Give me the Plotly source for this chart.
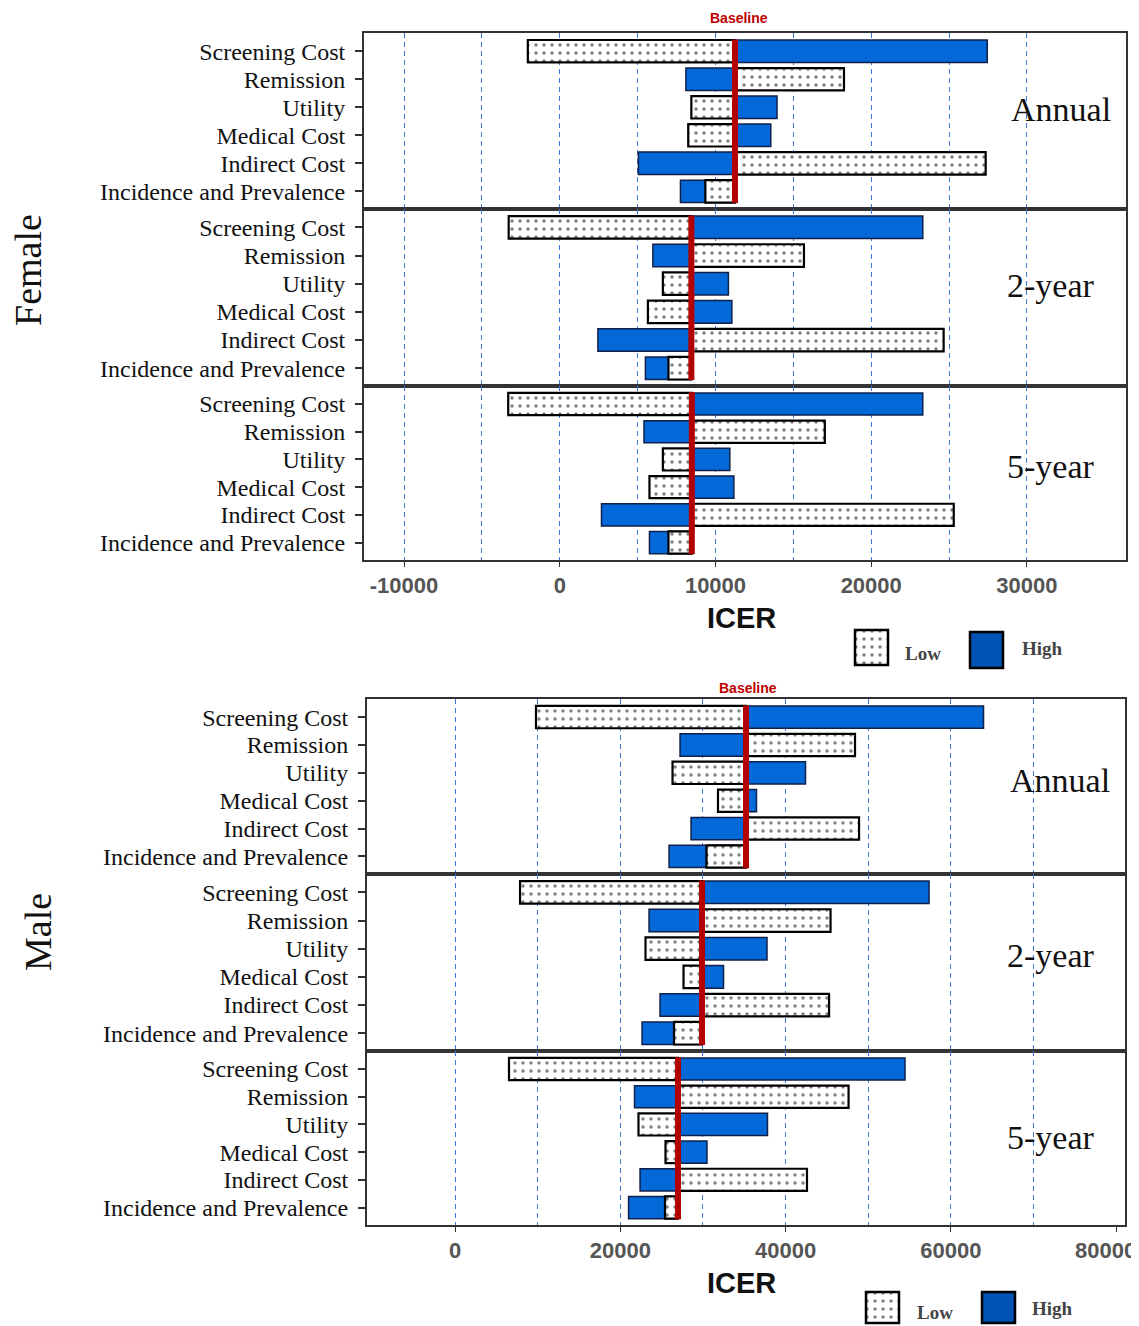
import plotly.graph_objects as go

W, H = 1139, 1326
OX, OY = 8, 8            # browser body margin
FW, FH = W - OX, H - OY  # figure size

params = ["Screening Cost", "Remission", "Utility", "Medical Cost",
          "Indirect Cost", "Incidence and Prevalence"]
horizons = ["Annual", "2-year", "5-year"]

# ---- Female ICER values ----
female_baseline = [11250, 8450, 8480]
female_annual_low = [-2050, 18250, 8450, 8250, 27350, 9350]
female_annual_high = [27450, 8100, 13950, 13550, 5050, 7750]
female_2yr_low = [-3280, 15680, 6620, 5660, 24650, 6980]
female_2yr_high = [23310, 5980, 10830, 11050, 2450, 5500]
female_5yr_low = [-3310, 17020, 6620, 5760, 25300, 6980]
female_5yr_high = [23310, 5410, 10920, 11180, 2680, 5760]

# ---- Male ICER values ----
male_baseline = [35210, 29890, 26980]
male_annual_low = [9800, 48400, 26320, 31820, 48890, 30430]
male_annual_high = [63950, 27230, 42410, 36480, 28560, 25900]
male_2yr_low = [7870, 45440, 23050, 27650, 45260, 26500]
male_2yr_high = [57360, 23480, 37750, 32490, 24810, 22630]
male_5yr_low = [6530, 47620, 22200, 25470, 42590, 25410]
male_5yr_high = [54450, 21720, 37810, 30490, 22390, 21000]

female_ticks = [-10000, 0, 10000, 20000, 30000]
female_grid = [-10000, -5000, 0, 5000, 10000, 15000, 20000, 25000, 30000]
male_ticks = [0, 20000, 40000, 60000, 80000]
male_grid = [0, 10000, 20000, 30000, 40000, 50000, 60000, 70000]

BLUE = "#0369d9"
RED = "#b30000"
GRID = "#3d78d8"
SERIF = "Liberation Serif, Times New Roman, serif"
SANS = "Liberation Sans, Arial, sans-serif"


def PX(x):
    return (x - OX) / FW


def PY(y):
    return 1 - (y - OY) / FH


fig = go.Figure()

F_X = (364, 1126)
M_X = (367, 1125)
F_RANGE = [-12570, 36360]
M_RANGE = [-10650, 81070]
panels = [
    (female_annual_low, female_annual_high, female_baseline[0], F_X, (33, 209), F_RANGE, female_grid, female_ticks, False),
    (female_2yr_low, female_2yr_high, female_baseline[1], F_X, (209, 386), F_RANGE, female_grid, female_ticks, False),
    (female_5yr_low, female_5yr_high, female_baseline[2], F_X, (386, 560), F_RANGE, female_grid, female_ticks, True),
    (male_annual_low, male_annual_high, male_baseline[0], M_X, (699, 874), M_RANGE, male_grid, male_ticks, False),
    (male_2yr_low, male_2yr_high, male_baseline[1], M_X, (874, 1051), M_RANGE, male_grid, male_ticks, False),
    (male_5yr_low, male_5yr_high, male_baseline[2], M_X, (1051, 1225), M_RANGE, male_grid, male_ticks, True),
]

DOT = dict(shape=".", fgcolor="black", bgcolor="white", size=8, solidity=0.14)

ypos = list(range(len(params)))
layout = {}
for i, (low, high, base, xpx, ypx, xr, grid, ticks, bottom) in enumerate(panels, start=1):
    xa = "x" if i == 1 else f"x{i}"
    ya = "y" if i == 1 else f"y{i}"
    # high bars first so that low bars overlay them when on same side
    fig.add_trace(go.Bar(
        y=ypos, x=[v - base for v in high], base=[base] * len(high),
        orientation="h", width=0.8,
        marker=dict(color=BLUE, line=dict(color="#10204a", width=1.5)),
        xaxis=xa, yaxis=ya, showlegend=False, name="High"))
    fig.add_trace(go.Bar(
        y=ypos, x=[v - base for v in low], base=[base] * len(low),
        orientation="h", width=0.8,
        marker=dict(color="white", line=dict(color="black", width=2.2),
                    pattern=DOT),
        xaxis=xa, yaxis=ya, showlegend=False, name="Low"))
    fig.add_trace(go.Scatter(
        x=[base, base], y=[-0.42, 5.42], mode="lines",
        line=dict(color=RED, width=6), xaxis=xa, yaxis=ya,
        showlegend=False, hoverinfo="skip"))

    xkey = "xaxis" if i == 1 else f"xaxis{i}"
    ykey = "yaxis" if i == 1 else f"yaxis{i}"
    layout[xkey] = dict(
        domain=[PX(xpx[0]), PX(xpx[1])], range=xr, anchor=ya,
        tickvals=ticks, ticktext=[str(t) for t in ticks],
        showticklabels=bottom, ticks="outside" if bottom else "",
        ticklen=5, tickcolor="#333",
        tickfont=dict(family=SANS, size=22, color="#555", weight="bold"),
        showgrid=False,
        minor=dict(tickvals=grid, showgrid=True, gridcolor=GRID,
                   griddash="5px,4px", gridwidth=1),
        showline=True, linecolor="#333", linewidth=2, mirror=True,
        zeroline=False, fixedrange=True)
    layout[ykey] = dict(
        domain=[PY(ypx[1]), PY(ypx[0])], range=[5.63, -0.65], anchor=xa,
        tickvals=ypos, ticktext=params, ticks="outside", ticklen=7,
        tickcolor="#333", tickwidth=1.5, ticklabelstandoff=5,
        tickfont=dict(family=SERIF, size=24, color="#111"),
        showgrid=False, zeroline=False,
        showline=True, linecolor="#333", linewidth=2, mirror=True,
        fixedrange=True)

# ---- legend swatches (small axes) ----
swatches = [
    ("Low", (855, 888), (630, 665)),
    ("High", (970, 1003), (632, 668)),
    ("Low", (866, 899), (1292, 1323)),
    ("High", (982, 1015), (1292, 1323)),
]
for j, (kind, (sx0, sx1), (sy0, sy1)) in enumerate(swatches, start=7):
    pad = 3
    xa, ya = f"x{j}", f"y{j}"
    ex = pad / (sx1 - sx0)
    ey = pad / (sy1 - sy0)
    if kind == "Low":
        mk = dict(color="white", line=dict(color="black", width=2.5), pattern=DOT)
    else:
        mk = dict(color="#0052b4", line=dict(color="black", width=2.5))
    fig.add_trace(go.Bar(x=[0.5], y=[1], width=[1], base=[0], marker=mk,
                         xaxis=xa, yaxis=ya, showlegend=False, hoverinfo="skip"))
    layout[f"xaxis{j}"] = dict(domain=[PX(sx0 - pad), PX(sx1 + pad)],
                               range=[-ex, 1 + ex], visible=False, anchor=ya,
                               fixedrange=True)
    layout[f"yaxis{j}"] = dict(domain=[max(0, PY(sy1 + pad)), PY(sy0 - pad)],
                               range=[-ey, 1 + ey], visible=False, anchor=xa,
                               fixedrange=True)

ann = []


def txt(x, y, s, size, family=SERIF, color="#111", weight="normal", angle=0,
        xanchor="center"):
    ann.append(dict(x=PX(x), y=PY(y), xref="paper", yref="paper", text=s,
                    showarrow=False, xanchor=xanchor, yanchor="middle",
                    textangle=angle,
                    font=dict(family=family, size=size, color=color, weight=weight)))


# Baseline labels
txt(739, 18, "Baseline", 14, SANS, "#c00000", "bold")
txt(748, 688, "Baseline", 14, SANS, "#c00000", "bold")
# Sex labels
txt(28, 270, "Female", 38, angle=-90)
txt(38, 932, "Male", 38, angle=-90)
# Horizon labels
for (cx, cy), h in zip([(1061, 109), (1051, 285), (1051, 466)], horizons):
    txt(cx, cy, h, 34)
for (cx, cy), h in zip([(1060, 780), (1051, 955), (1051, 1137)], horizons):
    txt(cx, cy, h, 34)
# last male tick label (sits at the right edge of the figure)
txt(1138, 1250, str(male_ticks[-1]), 22, SANS, "#555", "bold", xanchor="right")
# ICER titles
txt(741, 618, "ICER", 29, SANS, "#111", "bold")
txt(741, 1283, "ICER", 29, SANS, "#111", "bold")
# legend labels
txt(923, 653, "Low", 19, SERIF, "#444", "bold")
txt(1042, 648, "High", 19, SERIF, "#444", "bold")
txt(935, 1312, "Low", 19, SERIF, "#444", "bold")
txt(1052, 1308, "High", 19, SERIF, "#444", "bold")

fig.update_layout(
    width=FW, height=FH, margin=dict(l=0, r=0, t=0, b=0),
    paper_bgcolor="white", plot_bgcolor="white",
    barmode="overlay", bargap=0.2, showlegend=False,
    annotations=ann, **layout)

fig.write_html("out.html")
